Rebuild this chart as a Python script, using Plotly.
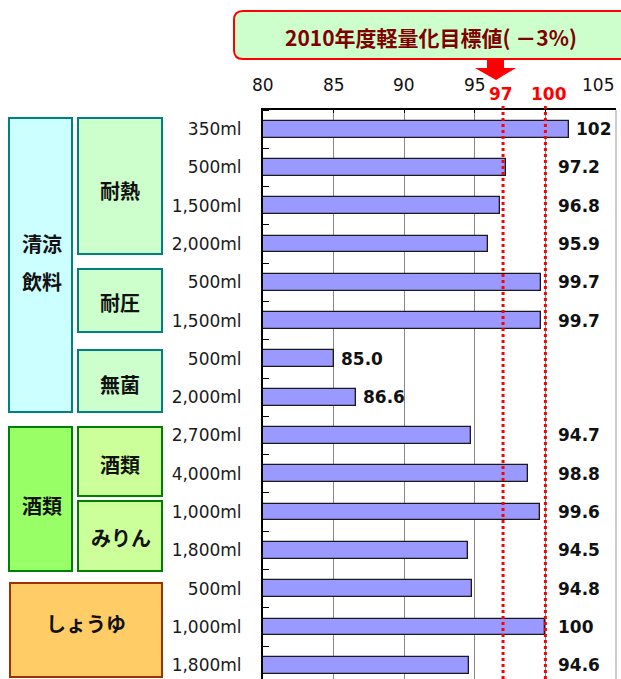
import plotly.graph_objects as go

# ---------------- data ----------------
sizes = ["350ml", "500ml", "1,500ml", "2,000ml", "500ml", "1,500ml", "500ml", "2,000ml",
         "2,700ml", "4,000ml", "1,000ml", "1,800ml", "500ml", "1,000ml", "1,800ml"]
values = [101.7, 97.2, 96.8, 95.9, 99.7, 99.7, 85.0, 86.6,
          94.7, 98.8, 99.6, 94.5, 94.8, 100, 94.6]
x_tick_vals = [80, 85, 90, 95, 105]
target_vals = [97, 100]
target_title = "2010年度軽量化目標値( －3%)"
outer_groups = [["清涼", "飲料"], ["酒類"], ["しょうゆ"]]
inner_groups = ["耐熱", "耐圧", "無菌", "酒類", "みりん"]

# ---------------- layout geometry (pixels) ----------------
W, H = 621, 679
L, R, T, B = 263, 616, 110, 679
PW, PH = R - L, B - T


def xp(px):
    return (px - L) / PW


def yp(py):
    return (B - py) / PH


pos = list(range(len(values)))
# three significant figures, as in the source chart
labels = [f"{v:.0f}" if v >= 99.95 else f"{v:.1f}" for v in values]

fig = go.Figure()
fig.add_trace(go.Bar(
    x=values, y=pos, orientation="h", width=0.44,
    marker=dict(color="#9999FF", line=dict(color="#1a1a1a", width=1.3)),
    hoverinfo="skip", showlegend=False,
))

annotations = []
# value labels
for p, v, t in zip(pos, values, labels):
    lx = v if v < 90 else max(v, 100.4)
    annotations.append(dict(
        x=lx, y=p, xref="x", yref="y", text=t, showarrow=False,
        xanchor="left", yanchor="middle", xshift=5,
        font=dict(family="DejaVu Sans", size=17, color="#111111", weight="bold"),
    ))

# top tick labels
for v in x_tick_vals:
    annotations.append(dict(
        x=v, y=1, xref="x", yref="paper", text=str(v), showarrow=False,
        xanchor="right" if v == 105 else "center", yanchor="middle", yshift=T - 84.5,
        font=dict(family="DejaVu Sans", size=17, color="#111111"),
    ))
# target labels
for v, sh in zip(target_vals, [-2, 4]):
    annotations.append(dict(
        x=v, y=1, xref="x", yref="paper", text=str(v), showarrow=False,
        xanchor="center", yanchor="middle", yshift=T - 93.5, xshift=sh,
        font=dict(family="DejaVu Sans", size=17, color="#FF0000", weight="bold"),
    ))

shapes = []
# target dotted lines
for v in target_vals:
    shapes.append(dict(
        type="line", xref="x", yref="paper", x0=v, x1=v, y0=0, y1=yp(105),
        line=dict(color="#FF0000", width=3, dash="dot"), layer="above",
    ))
# right border
shapes.append(dict(type="line", xref="paper", yref="paper", x0=1, x1=1, y0=0, y1=1,
                   line=dict(color="#999999", width=1)))

# rounded title box
bx0, bx1, by0, by1, r = 234, 640, 11, 59, 9
path = (f"M {xp(bx0 + r)},{yp(by0)} L {xp(bx1 - r)},{yp(by0)} "
        f"Q {xp(bx1)},{yp(by0)} {xp(bx1)},{yp(by0 + r)} L {xp(bx1)},{yp(by1 - r)} "
        f"Q {xp(bx1)},{yp(by1)} {xp(bx1 - r)},{yp(by1)} L {xp(bx0 + r)},{yp(by1)} "
        f"Q {xp(bx0)},{yp(by1)} {xp(bx0)},{yp(by1 - r)} L {xp(bx0)},{yp(by0 + r)} "
        f"Q {xp(bx0)},{yp(by0)} {xp(bx0 + r)},{yp(by0)} Z")
shapes.append(dict(type="path", xref="paper", yref="paper", path=path,
                   fillcolor="#CCFFCC", line=dict(color="#FF0000", width=2)))
annotations.append(dict(
    x=xp(431), y=yp(37.5), xref="paper", yref="paper", text=target_title, showarrow=False,
    xanchor="center", yanchor="middle",
    font=dict(family="Noto Sans CJK JP", size=21, color="#800000", weight="bold"),
))
# arrow
arrow_pts = [(487, 58), (504, 58), (504, 68), (516, 68), (496, 80), (475, 68), (487, 68)]
apath = "M " + " L ".join(f"{xp(a)},{yp(b)}" for a, b in arrow_pts) + " Z"
shapes.append(dict(type="path", xref="paper", yref="paper", path=apath,
                   fillcolor="#FF0000", line=dict(color="#FF0000", width=0)))

# group boxes: (x0, x1, y0, y1, fill, border, text_x, first text_y, label lines)
boxes = [
    (9, 72, 118, 412, "#CCFFFF", "#008080", 42, 244, outer_groups[0]),
    (78, 162, 118, 254, "#CCFFCC", "#008080", 120, 190, [inner_groups[0]]),
    (78, 162, 269, 332, "#CCFFCC", "#008080", 120, 302, [inner_groups[1]]),
    (78, 162, 350, 412, "#CCFFCC", "#008080", 120, 384, [inner_groups[2]]),
    (9, 72, 427, 571, "#99FF66", "#008000", 42, 505, outer_groups[1]),
    (78, 162, 427, 496, "#CCFF99", "#008000", 120, 464, [inner_groups[3]]),
    (78, 162, 501, 571, "#CCFF99", "#008000", 121, 537, [inner_groups[4]]),
    (10, 162, 583, 677, "#FFCC66", "#993300", 86, 623, outer_groups[2]),
]
for x0, x1, y0, y1, fc, lc, tx, ty, lines in boxes:
    shapes.append(dict(type="rect", xref="paper", yref="paper",
                       x0=xp(x0), x1=xp(x1), y0=yp(y1), y1=yp(y0),
                       fillcolor=fc, line=dict(color=lc, width=2)))
    for i, lab in enumerate(lines):
        annotations.append(dict(
            x=xp(tx), y=yp(ty + 37 * i), xref="paper", yref="paper", text=lab,
            showarrow=False, xanchor="center", yanchor="middle",
            font=dict(family="Noto Sans CJK JP", size=20, color="#111111", weight="bold"),
        ))

fig.update_layout(
    width=W, height=H,
    margin=dict(l=L, r=W - R, t=T, b=H - B, pad=0),
    paper_bgcolor="white", plot_bgcolor="white",
    bargap=0, showlegend=False,
    shapes=shapes, annotations=annotations,
    xaxis=dict(range=[80, 105], side="top", tickvals=[80, 85, 90, 95, 100, 105],
               showticklabels=False, ticks="inside", ticklen=3, tickcolor="black",
               showgrid=True, gridcolor="#888888", gridwidth=1,
               showline=True, linecolor="black", linewidth=1.5, zeroline=False,
               fixedrange=True),
    yaxis=dict(range=[14.36, -0.5], tickvals=pos, ticktext=sizes, ticks="",
               tickfont=dict(family="DejaVu Sans", size=17, color="#1a1a1a"),
               ticklabelstandoff=16,
               minor=dict(tickvals=[i + 0.5 for i in range(-1, 14)], ticks="inside",
                          ticklen=6, tickcolor="black", showgrid=False),
               showgrid=False, showline=True, linecolor="black", linewidth=2,
               zeroline=False, fixedrange=True),
)

fig.write_html(
    "out.html",
    config={"displayModeBar": False},
    post_script="document.body.style.margin='0';document.body.style.overflow='hidden';",
)
